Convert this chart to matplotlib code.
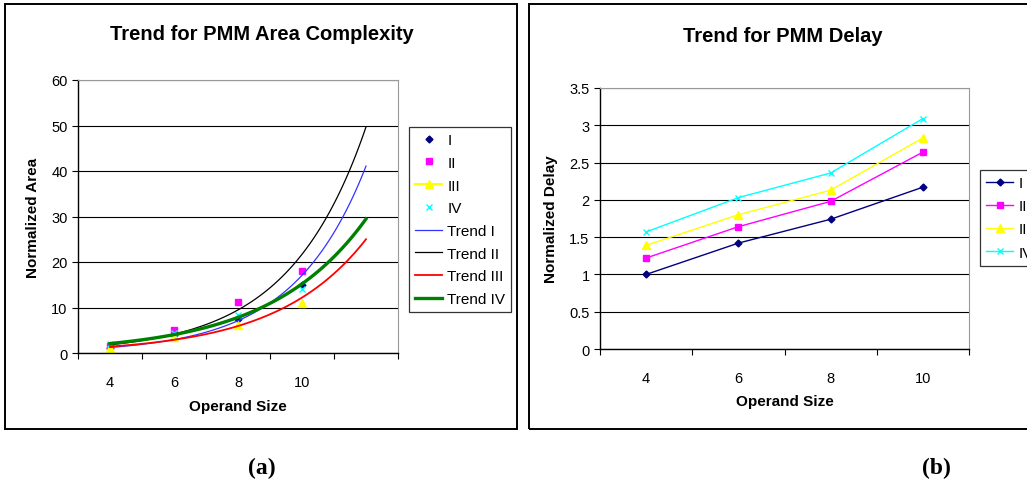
import numpy as np
import matplotlib
matplotlib.use("Agg")
import matplotlib.pyplot as plt
from matplotlib.lines import Line2D
from matplotlib.patches import Rectangle

plt.rcParams['font.family'] = ['Liberation Sans', 'DejaVu Sans']

# data
sizes = ['4', '6', '8', '10']
area_labels = ['4', '6', '8', '10', '']   # excel left an empty 5th category for the forecast
area_I = [1.0, 3.9, 7.5, 15.0]
area_II = [1.5, 5.0, 11.3, 18.1]
area_III = [1.2, 3.6, 6.2, 11.0]
area_IV = [1.9, 4.5, 8.3, 14.1]

delay_I = [1.0, 1.42, 1.74, 2.17]
delay_II = [1.22, 1.64, 1.98, 2.64]
delay_III = [1.39, 1.80, 2.13, 2.83]
delay_IV = [1.57, 2.03, 2.36, 3.09]

W, H = 1027, 489
fig = plt.figure(figsize=(W/100, H/100), dpi=100)

# panel frames
fig.patches.append(Rectangle((5/W, 1-430/H), 512/W, 425/H, transform=fig.transFigure,
                             fill=False, lw=1.4, ec='black'))
fig.patches.append(Rectangle((529/W, 1-430/H), 520/W, 425/H, transform=fig.transFigure,
                             fill=False, lw=1.4, ec='black'))

def style_axes(ax, ncat):
    ax.set_xlim(0.5, ncat+0.5)
    ax.set_xticks(np.arange(0.5, ncat+1), minor=True)
    ax.tick_params(axis='x', which='major', length=0, pad=16, labelsize=10.5)
    ax.tick_params(axis='x', which='minor', length=4, width=0.8, direction='out')
    ax.tick_params(axis='y', length=4, width=0.8, labelsize=10.5)
    ax.grid(axis='y', color='black', lw=0.8)
    ax.set_axisbelow(True)
    ax.spines['top'].set_color('#999999')
    ax.spines['right'].set_color('#999999')
    ax.spines['left'].set_linewidth(1.0)
    ax.spines['bottom'].set_linewidth(1.0)

leg_kw = dict(loc='upper left', bbox_transform=fig.transFigure, borderaxespad=0,
              fontsize=11, frameon=True, fancybox=False, edgecolor='black',
              handlelength=1.77, borderpad=0.4, handletextpad=0.33)

# (a) area complexity
ax1 = fig.add_axes([78/W, 1-354/H, 320/W, 273/H])
x = np.arange(1, 5)
xs = np.linspace(1, 5, 100)
series = [(area_I, 'I', dict(color='#000080', marker='D', ms=3.5)),
          (area_II, 'II', dict(color='#FF00FF', marker='s', ms=5)),
          (area_III, 'III', dict(color='#FFFF00', marker='^', ms=6)),
          (area_IV, 'IV', dict(color='#00FFFF', marker='x', ms=5, mew=1))]
handles = []
for vals, name, kw in series:
    ax1.plot(x, vals, ls='none', **kw)
    ls = '-' if name == 'III' else 'none'
    handles.append(Line2D([], [], ls=ls, lw=1.5, label=name, **kw))

# exponential trend lines fitted to each series, forecast one category ahead
trend_style = [('#3333FF', 0.9), ('black', 0.9), ('red', 1.3), ('#008000', 2.4)]
for (vals, name, kw), (c, lw) in zip(series, trend_style):
    b, a = np.polyfit(x, np.log(vals), 1)
    h, = ax1.plot(xs, np.exp(a + b*xs), color=c, lw=lw, label='Trend ' + name)
    handles.append(h)

ax1.set_ylim(0, 60)
ax1.set_yticks(range(0, 61, 10))
ax1.set_xticks(range(1, 6))
ax1.set_xticklabels(area_labels)
style_axes(ax1, 5)
ax1.set_xlabel('Operand Size', fontsize=11, fontweight='bold', labelpad=7)
ax1.set_ylabel('Normalized Area', fontsize=11, fontweight='bold', labelpad=8)
fig.text(262/W, 1-35/H, 'Trend for PMM Area Complexity', ha='center', va='center',
         fontsize=14.5, fontweight='bold')
leg1 = ax1.legend(handles=handles, bbox_to_anchor=(409/W, 1-128/H),
                  labelspacing=0.57, **leg_kw)
leg1.get_frame().set_linewidth(0.9)

# (b) delay
ax2 = fig.add_axes([600/W, 1-350/H, 369/W, 261/H])
x2 = np.arange(1, 5)
dseries = [(delay_I, 'I', dict(color='#000080', marker='D', ms=3.5)),
           (delay_II, 'II', dict(color='#FF00FF', marker='s', ms=5)),
           (delay_III, 'III', dict(color='#FFFF00', marker='^', ms=6)),
           (delay_IV, 'IV', dict(color='#00FFFF', marker='x', ms=5, mew=1))]
for vals, name, kw in dseries:
    ax2.plot(x2, vals, lw=1, label=name, **kw)
ax2.set_ylim(0, 3.5)
ax2.set_yticks(np.arange(0, 3.51, 0.5))
ax2.set_yticklabels(['0', '0.5', '1', '1.5', '2', '2.5', '3', '3.5'])
ax2.set_xticks(x2)
ax2.set_xticklabels(sizes)
style_axes(ax2, 4)
ax2.set_xlabel('Operand Size', fontsize=11, fontweight='bold', labelpad=6)
ax2.set_ylabel('Normalized Delay', fontsize=11, fontweight='bold', labelpad=8)
fig.text(783/W, 1-37/H, 'Trend for PMM Delay', ha='center', va='center',
         fontsize=14.5, fontweight='bold')
leg2 = ax2.legend(bbox_to_anchor=(980/W, 1-171/H), labelspacing=0.6, **leg_kw)
leg2.get_frame().set_linewidth(0.9)

fig.text(262/W, 1-468/H, '(a)', ha='center', va='center', fontsize=17,
         fontweight='bold', family='Liberation Serif')
fig.text(936/W, 1-468/H, '(b)', ha='center', va='center', fontsize=17,
         fontweight='bold', family='Liberation Serif')

fig.savefig('out.png', dpi=100)
